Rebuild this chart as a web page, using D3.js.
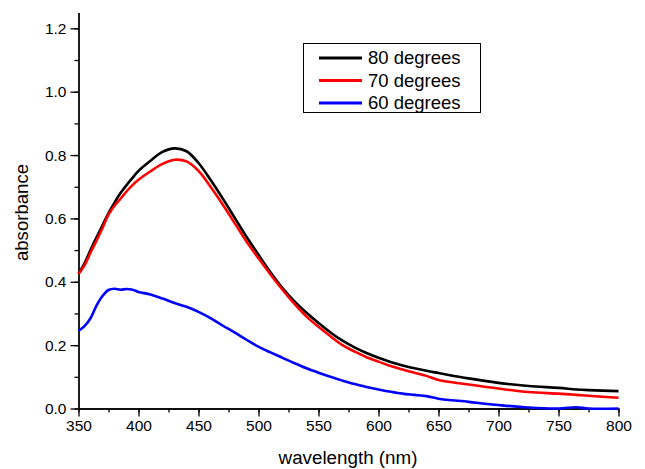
<!DOCTYPE html>
<html>
<head>
<meta charset="utf-8">
<script src="https://cdn.jsdelivr.net/npm/d3@7"></script>
<style>
  body { margin: 0; background: #fff; }
  svg text { font-family: "Liberation Sans", Arial, sans-serif; fill: #000; }
</style>
</head>
<body>
<div id="chart"></div>
<script>
// 数据
const wavelength = [350, 355, 360, 365, 370, 375, 380, 385, 390, 395, 400,
  410, 420, 430, 440, 450, 460, 470, 480, 490, 500, 510, 520, 530, 540, 550,
  560, 570, 580, 590, 600, 610, 620, 630, 640, 650, 675, 700, 725, 750, 765, 775, 800];

const deg80 = [0.425, 0.458, 0.5, 0.54, 0.578, 0.617, 0.65, 0.68, 0.705, 0.728, 0.75,
  0.782, 0.81, 0.821, 0.812, 0.775, 0.722, 0.664, 0.603, 0.542, 0.485, 0.43, 0.38, 0.338, 0.302, 0.27,
  0.24, 0.214, 0.193, 0.175, 0.16, 0.147, 0.136, 0.127, 0.119, 0.112, 0.095, 0.081, 0.071, 0.065, 0.06, 0.058, 0.055];

const deg70 = [0.425, 0.452, 0.492, 0.53, 0.57, 0.612, 0.64, 0.662, 0.685, 0.705, 0.722,
  0.749, 0.772, 0.785, 0.78, 0.75, 0.70, 0.645, 0.586, 0.527, 0.474, 0.423, 0.375, 0.33, 0.29, 0.258,
  0.228, 0.2, 0.18, 0.162, 0.148, 0.134, 0.123, 0.113, 0.103, 0.09, 0.076, 0.063, 0.052, 0.047, 0.043, 0.04, 0.034];

const deg60 = [0.245, 0.26, 0.285, 0.325, 0.355, 0.374, 0.378, 0.375, 0.377, 0.375, 0.368,
  0.36, 0.347, 0.333, 0.321, 0.305, 0.285, 0.262, 0.24, 0.217, 0.195, 0.177, 0.16, 0.143, 0.127, 0.113,
  0.1, 0.088, 0.077, 0.068, 0.06, 0.053, 0.047, 0.043, 0.039, 0.031, 0.021, 0.011, 0.003, 0.0, 0.004, 0.0, 0.0];

const seriesNames = ["80 degrees", "70 degrees", "60 degrees"];
const seriesColors = ["#000000", "#ff0000", "#0000ff"];
const seriesValues = [deg80, deg70, deg60];

const xMajor = d3.range(350, 801, 50);
const xMinor = d3.range(350, 801, 25);
const yMajor = [0.0, 0.2, 0.4, 0.6, 0.8, 1.0, 1.2];
const yMinor = d3.range(0, 1.21, 0.1);

// 设置画布
const width = 645;
const height = 469;

const svg = d3.select("#chart").append("svg")
  .attr("width", width)
  .attr("height", height);

const x = d3.scaleLinear().domain([350, 800]).range([78.5, 618.5]);
const y = d3.scaleLinear().domain([0, 1.25]).range([408.5, 12.5]);

// 次刻度
svg.append("g")
  .attr("transform", `translate(0,${y(0)})`)
  .call(d3.axisBottom(x).tickValues(xMinor).tickSize(4).tickSizeOuter(0).tickFormat(""));
svg.append("g")
  .attr("transform", `translate(${x(350)},0)`)
  .call(d3.axisLeft(y).tickValues(yMinor).tickSize(4).tickSizeOuter(0).tickFormat(""));

// 主刻度
svg.append("g")
  .attr("transform", `translate(0,${y(0)})`)
  .call(d3.axisBottom(x).tickValues(xMajor).tickSize(8).tickSizeOuter(0).tickPadding(3));
svg.append("g")
  .attr("transform", `translate(${x(350)},0)`)
  .call(d3.axisLeft(y).tickValues(yMajor).tickSize(8).tickSizeOuter(0).tickPadding(4)
    .tickFormat(d3.format(".1f")));

svg.selectAll(".domain, .tick line").attr("stroke", "#000").attr("stroke-width", 1.3);
svg.selectAll(".tick text").style("font-size", "15.5px");

// 坐标轴标题
svg.append("text")
  .attr("x", 348)
  .attr("y", 463.5)
  .attr("text-anchor", "middle")
  .style("font-size", "18.8px")
  .text("wavelength (nm)");

svg.append("text")
  .attr("transform", "translate(28,212.5) rotate(-90)")
  .attr("text-anchor", "middle")
  .style("font-size", "18.6px")
  .text("absorbance");

// 曲线
const line = d3.line()
  .x((d, i) => x(wavelength[i]))
  .y(d => y(d))
  .curve(d3.curveCatmullRom.alpha(0.5));

seriesValues.forEach((vals, i) => {
  svg.append("path")
    .datum(vals)
    .attr("d", line)
    .attr("fill", "none")
    .attr("stroke", seriesColors[i])
    .attr("stroke-width", 2.6);
});

// 图例
const legend = svg.append("g");
legend.append("rect")
  .attr("x", 303.5).attr("y", 43.5)
  .attr("width", 177).attr("height", 69)
  .attr("fill", "#fff")
  .attr("stroke", "#000")
  .attr("stroke-width", 1);

seriesNames.forEach((name, i) => {
  const ly = 58 + i * 22.5;
  legend.append("line")
    .attr("x1", 319).attr("x2", 362)
    .attr("y1", ly).attr("y2", ly)
    .attr("stroke", seriesColors[i])
    .attr("stroke-width", 3);
  legend.append("text")
    .attr("x", 368)
    .attr("y", ly + 6)
    .style("font-size", "18.5px")
    .text(name);
});
</script>
</body>
</html>
